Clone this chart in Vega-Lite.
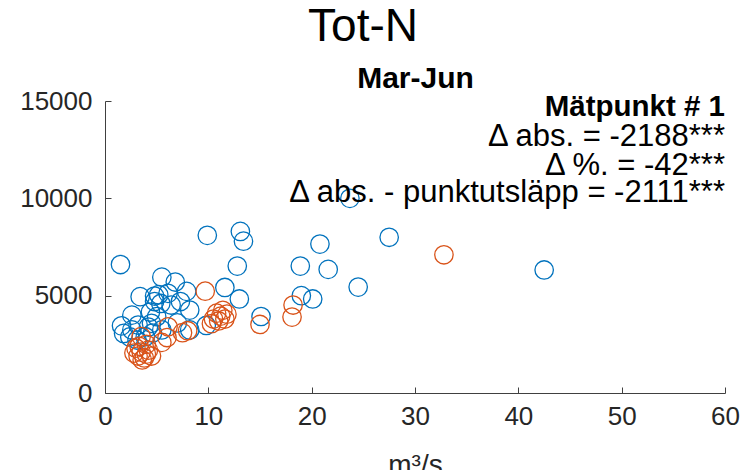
{
  "$schema": "https://vega.github.io/schema/vega-lite/v6.json",
  "autosize": "none",
  "width": 620,
  "height": 292,
  "padding": {"left": 105, "top": 101, "right": 20, "bottom": 77},
  "background": "white",
  "config": {
    "view": {"stroke": null},
    "font": "Liberation Sans",
    "axis": {"grid": false, "labelFont": "Liberation Sans", "titleFont": "Liberation Sans", "labelColor": "#262626", "titleColor": "#262626", "domainColor": "#404040", "tickColor": "#404040", "domainWidth": 1, "tickWidth": 1}
  },
  "title": {"text": "Tot-N", "fontSize": 46, "fontWeight": "normal", "font": "Liberation Sans", "color": "#000000", "anchor": "middle", "dx": -52, "offset": 12},
  "resolve": {"axis": {"x": "independent", "y": "independent"}},
  "layer": [
    {
      "data": {"values": [
        {"q": 1.5, "n": 6600, "s": "A"},
        {"q": 9.9, "n": 8100, "s": "A"},
        {"q": 13.1, "n": 8300, "s": "A"},
        {"q": 13.4, "n": 7800, "s": "A"},
        {"q": 27.5, "n": 8000, "s": "A"},
        {"q": 20.8, "n": 7650, "s": "A"},
        {"q": 18.9, "n": 6520, "s": "A"},
        {"q": 21.6, "n": 6350, "s": "A"},
        {"q": 42.5, "n": 6320, "s": "A"},
        {"q": 12.8, "n": 6520, "s": "A"},
        {"q": 23.7, "n": 10000, "s": "A"},
        {"q": 24.5, "n": 5440, "s": "A"},
        {"q": 11.6, "n": 5420, "s": "A"},
        {"q": 13.0, "n": 4830, "s": "A"},
        {"q": 15.1, "n": 3930, "s": "A"},
        {"q": 19.0, "n": 5000, "s": "A"},
        {"q": 20.1, "n": 4830, "s": "A"},
        {"q": 5.5, "n": 5950, "s": "A"},
        {"q": 6.8, "n": 5700, "s": "A"},
        {"q": 7.9, "n": 5220, "s": "A"},
        {"q": 3.4, "n": 4950, "s": "A"},
        {"q": 4.8, "n": 4980, "s": "A"},
        {"q": 4.8, "n": 4700, "s": "A"},
        {"q": 6.1, "n": 5120, "s": "A"},
        {"q": 7.3, "n": 4700, "s": "A"},
        {"q": 6.4, "n": 4520, "s": "A"},
        {"q": 8.2, "n": 4260, "s": "A"},
        {"q": 2.6, "n": 4000, "s": "A"},
        {"q": 1.6, "n": 3450, "s": "A"},
        {"q": 1.8, "n": 3060, "s": "A"},
        {"q": 2.6, "n": 3240, "s": "A"},
        {"q": 3.2, "n": 3490, "s": "A"},
        {"q": 4.5, "n": 3580, "s": "A"},
        {"q": 5.0, "n": 3920, "s": "A"},
        {"q": 5.5, "n": 3240, "s": "A"},
        {"q": 8.2, "n": 3240, "s": "A"},
        {"q": 9.8, "n": 3470, "s": "A"},
        {"q": 3.9, "n": 2890, "s": "A"},
        {"q": 3.1, "n": 2720, "s": "A"},
        {"q": 2.4, "n": 2880, "s": "A"},
        {"q": 4.6, "n": 3080, "s": "A"},
        {"q": 4.2, "n": 3390, "s": "A"},
        {"q": 4.4, "n": 4160, "s": "A"},
        {"q": 5.4, "n": 4600, "s": "A"},
        {"q": 5.2, "n": 5050, "s": "A"},
        {"q": 7.0, "n": 3600, "s": "A"},
        {"q": 32.8, "n": 7100, "s": "B"},
        {"q": 9.7, "n": 5230, "s": "B"},
        {"q": 18.2, "n": 4520, "s": "B"},
        {"q": 18.1, "n": 3900, "s": "B"},
        {"q": 15.0, "n": 3520, "s": "B"},
        {"q": 10.8, "n": 4100, "s": "B"},
        {"q": 11.2, "n": 3950, "s": "B"},
        {"q": 11.6, "n": 3800, "s": "B"},
        {"q": 11.0, "n": 3700, "s": "B"},
        {"q": 10.3, "n": 3560, "s": "B"},
        {"q": 11.8, "n": 4050, "s": "B"},
        {"q": 11.4, "n": 4250, "s": "B"},
        {"q": 10.5, "n": 3800, "s": "B"},
        {"q": 8.0, "n": 3200, "s": "B"},
        {"q": 7.5, "n": 3100, "s": "B"},
        {"q": 6.1, "n": 3400, "s": "B"},
        {"q": 6.0, "n": 2850, "s": "B"},
        {"q": 3.5, "n": 2900, "s": "B"},
        {"q": 5.5, "n": 2600, "s": "B"},
        {"q": 3.0, "n": 2300, "s": "B"},
        {"q": 3.5, "n": 2100, "s": "B"},
        {"q": 4.0, "n": 2000, "s": "B"},
        {"q": 3.2, "n": 1900, "s": "B"},
        {"q": 3.8, "n": 1800, "s": "B"},
        {"q": 4.2, "n": 2200, "s": "B"},
        {"q": 2.8, "n": 2050, "s": "B"},
        {"q": 3.6, "n": 1700, "s": "B"},
        {"q": 4.5, "n": 1900, "s": "B"},
        {"q": 3.3, "n": 2400, "s": "B"},
        {"q": 4.0, "n": 2500, "s": "B"}
      ]},
      "mark": {"type": "point", "shape": "circle", "filled": false, "size": 340, "strokeWidth": 1.3, "opacity": 1},
      "encoding": {
        "x": {"field": "q", "type": "quantitative", "scale": {"domain": [0, 60], "nice": false},
          "axis": {"orient": "bottom", "values": [0, 10, 20, 30, 40, 50, 60], "title": "m³/s", "titleFontSize": 28, "titleFontWeight": "normal", "titlePadding": 22, "labelFontSize": 26, "tickSize": -6, "labelPadding": 16, "labelFlush": false}},
        "y": {"field": "n", "type": "quantitative", "scale": {"domain": [0, 15000], "nice": false},
          "axis": {"orient": "left", "values": [0, 5000, 10000, 15000], "title": null, "labelFontSize": 26, "tickSize": -6, "labelPadding": 19, "format": "d", "labelFlush": false}},
        "color": {"field": "s", "type": "nominal", "scale": {"domain": ["A", "B"], "range": ["#0072BD", "#D95319"]}, "legend": null}
      }
    },
    {
      "data": {"values": [
        {"label": "Δ abs. = -2188***", "x": 60, "y": 12688},
        {"label": "Δ %. = -42***", "x": 60, "y": 11198},
        {"label": "Δ abs. - punktutsläpp = -2111***", "x": 60, "y": 9812}
      ]},
      "mark": {"type": "text", "align": "right", "baseline": "alphabetic", "fontSize": 31, "font": "Liberation Sans", "color": "#000000"},
      "encoding": {
        "x": {"field": "x", "type": "quantitative", "axis": {"orient": "top", "title": "Mar-Jun", "titleFontSize": 30, "titleFontWeight": "bold", "titleColor": "#000000", "titlePadding": 8, "labels": false, "ticks": false, "domain": false}},
        "y": {"field": "y", "type": "quantitative", "axis": null},
        "text": {"field": "label"}
      }
    },
    {
      "data": {"values": [
        {"label": "Mätpunkt # 1", "x": 60, "y": 14229}
      ]},
      "mark": {"type": "text", "align": "right", "baseline": "alphabetic", "fontSize": 29.5, "fontWeight": "bold", "font": "Liberation Sans", "color": "#000000"},
      "encoding": {
        "x": {"field": "x", "type": "quantitative", "axis": null},
        "y": {"field": "y", "type": "quantitative", "axis": null},
        "text": {"field": "label"}
      }
    }
  ]
}
